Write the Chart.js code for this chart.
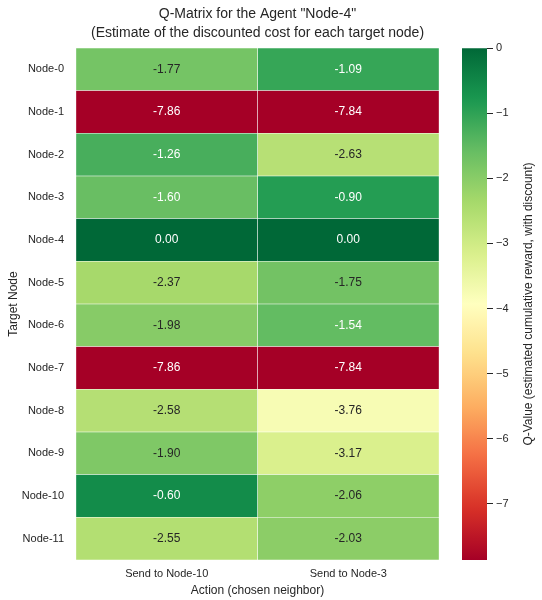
<!DOCTYPE html>
<html>
<head>
<meta charset="utf-8">
<script src="https://cdn.jsdelivr.net/npm/chart.js@4.4.1/dist/chart.umd.min.js"></script>
<style>
  html, body { margin: 0; padding: 0; background: #ffffff; overflow: hidden; }
  #wrap { position: relative; width: 542px; height: 600px; }
  #main { position: absolute; left: 0; top: 0; }
  #cbar { position: absolute; left: 462px; top: 0; }
</style>
</head>
<body>
<div id="wrap">
  <canvas id="main" width="542" height="600"></canvas>
  <canvas id="cbar" width="80" height="600"></canvas>
</div>
<script>
// ---------- data ----------
const rowLabels = ['Node-0','Node-1','Node-2','Node-3','Node-4','Node-5','Node-6','Node-7','Node-8','Node-9','Node-10','Node-11'];
const colLabels = ['Send to Node-10', 'Send to Node-3'];
const sendToNode10 = [-1.77, -7.86, -1.26, -1.60, 0.00, -2.37, -1.98, -7.86, -2.58, -1.90, -0.60, -2.55];
const sendToNode3  = [-1.09, -7.84, -2.63, -0.90, 0.00, -1.75, -1.54, -7.84, -3.76, -3.17, -2.06, -2.03];
const colorbarTicks = [0, -1, -2, -3, -4, -5, -6, -7];

const titleLines = ['Q-Matrix for the Agent "Node-4"', '(Estimate of the discounted cost for each target node)'];
const xTitle = 'Action (chosen neighbor)';
const yTitle = 'Target Node';
const cbTitle = 'Q-Value (estimated cumulative reward, with discount)';

const columns = [sendToNode10, sendToNode3];
const vmin = Math.min(...sendToNode10, ...sendToNode3);
const vmax = Math.max(...sendToNode10, ...sendToNode3);

// ---------- colormap (matplotlib RdYlGn) ----------
const RdYlGn = [
  [0.6470588235294118, 0.0, 0.14901960784313725],
  [0.8431372549019608, 0.18823529411764706, 0.15294117647058825],
  [0.9568627450980393, 0.42745098039215684, 0.2627450980392157],
  [0.9921568627450981, 0.6823529411764706, 0.3803921568627451],
  [0.996078431372549, 0.8784313725490196, 0.5450980392156862],
  [1.0, 1.0, 0.7490196078431373],
  [0.8509803921568627, 0.9372549019607843, 0.5450980392156862],
  [0.6509803921568628, 0.8509803921568627, 0.41568627450980394],
  [0.4, 0.7411764705882353, 0.38823529411764707],
  [0.10196078431372549, 0.596078431372549, 0.3137254901960784],
  [0.0, 0.40784313725490196, 0.21568627450980393]
];
function cmapAt(pos) {
  const p = Math.max(0, Math.min(1, pos)) * (RdYlGn.length - 1);
  const i = Math.min(RdYlGn.length - 2, Math.floor(p));
  const t = p - i;
  const a = RdYlGn[i], b = RdYlGn[i + 1];
  return [a[0] + (b[0] - a[0]) * t, a[1] + (b[1] - a[1]) * t, a[2] + (b[2] - a[2]) * t];
}
function rgbForValue(v) {
  const norm = (v - vmin) / (vmax - vmin);
  const idx = Math.min(255, Math.max(0, Math.floor(norm * 256)));
  return cmapAt(idx / 255);
}
function toCss(c) {
  return 'rgb(' + Math.round(c[0] * 255) + ',' + Math.round(c[1] * 255) + ',' + Math.round(c[2] * 255) + ')';
}
function luminance(c) {
  const lin = c.map(x => x <= 0.03928 ? x / 12.92 : Math.pow((x + 0.055) / 1.055, 2.4));
  return 0.2126 * lin[0] + 0.7152 * lin[1] + 0.0722 * lin[2];
}
function textColorFor(v) {
  return luminance(rgbForValue(v)) > 0.408 ? '#262626' : '#ffffff';
}

const FONT = '"Liberation Sans", Arial, Helvetica, sans-serif';
const TXT = '#262626';

// ---------- main heatmap ----------
const annotatePlugin = {
  id: 'annotate',
  afterDatasetsDraw(chart) {
    const ctx = chart.ctx;
    ctx.save();
    ctx.font = '12px ' + FONT;
    ctx.textAlign = 'center';
    ctx.textBaseline = 'middle';
    chart.data.datasets.forEach((ds, di) => {
      chart.getDatasetMeta(di).data.forEach((el, i) => {
        const c = el.getCenterPoint();
        const v = ds.qvals[i];
        ctx.fillStyle = textColorFor(v);
        ctx.fillText(v.toFixed(2), c.x, c.y);
      });
    });
    ctx.restore();
  },
  afterDraw(chart) {
    const ctx = chart.ctx;
    const ca = chart.chartArea;
    const cx = (ca.left + ca.right) / 2;
    ctx.save();
    ctx.fillStyle = TXT;
    ctx.textAlign = 'center';
    ctx.textBaseline = 'alphabetic';
    ctx.font = '14px ' + FONT;
    ctx.fillText(titleLines[0], cx, 18);
    ctx.fillText(titleLines[1], cx, 37);
    ctx.font = '12px ' + FONT;
    ctx.textBaseline = 'middle';
    ctx.fillText(xTitle, cx, 591);
    ctx.translate(14, (ca.top + ca.bottom) / 2);
    ctx.rotate(-Math.PI / 2);
    ctx.fillText(yTitle, 0, 0);
    ctx.restore();
  }
};

new Chart(document.getElementById('main'), {
  type: 'bar',
  data: {
    labels: rowLabels,
    datasets: columns.map((vals, j) => ({
      label: colLabels[j],
      data: vals.map(() => [j, j + 1]),
      qvals: vals,
      backgroundColor: vals.map(v => toCss(rgbForValue(v))),
      borderColor: '#ffffff',
      borderWidth: 0.5,
      borderSkipped: false,
      barPercentage: 1,
      categoryPercentage: 1
    }))
  },
  options: {
    indexAxis: 'y',
    responsive: false,
    animation: false,
    devicePixelRatio: 1,
    layout: { padding: { top: 48, right: 103, bottom: 0, left: 0 } },
    plugins: { legend: { display: false }, tooltip: { enabled: false }, title: { display: false } },
    scales: {
      y: {
        type: 'category',
        stacked: true,
        grid: { display: false, drawTicks: false, tickLength: 0 },
        border: { display: false },
        ticks: { padding: 12, color: TXT, font: { family: FONT, size: 11 }, autoSkip: false },
        afterFit(s) { s.width = 76; }
      },
      x: {
        type: 'linear',
        min: 0,
        max: columns.length,
        grid: { display: false, drawTicks: false, tickLength: 0 },
        border: { display: false },
        afterBuildTicks(s) { s.ticks = colLabels.map((_, j) => ({ value: j + 0.5 })); },
        ticks: {
          padding: 7,
          color: TXT,
          font: { family: FONT, size: 11 },
          maxRotation: 0,
          autoSkip: false,
          callback: (v, i) => colLabels[i]
        },
        afterFit(s) { s.height = 40; }
      }
    }
  },
  plugins: [annotatePlugin]
});

// ---------- colorbar ----------
const cbTitlePlugin = {
  id: 'cbTitle',
  afterDraw(chart) {
    const ctx = chart.ctx;
    const ca = chart.chartArea;
    ctx.save();
    ctx.fillStyle = TXT;
    ctx.font = '12px ' + FONT;
    ctx.textAlign = 'center';
    ctx.textBaseline = 'middle';
    ctx.translate(67, (ca.top + ca.bottom) / 2);
    ctx.rotate(-Math.PI / 2);
    ctx.fillText(cbTitle, 0, 0);
    ctx.restore();
  }
};

new Chart(document.getElementById('cbar'), {
  type: 'bar',
  data: {
    labels: [''],
    datasets: [{
      data: [[vmin, vmax]],
      backgroundColor(context) {
        const chart = context.chart;
        const ca = chart.chartArea;
        if (!ca) return 'rgba(0,0,0,0)';
        const g = chart.ctx.createLinearGradient(0, ca.bottom, 0, ca.top);
        const n = 64;
        for (let k = 0; k <= n; k++) {
          g.addColorStop(k / n, toCss(cmapAt(k / n)));
        }
        return g;
      },
      borderWidth: 0,
      barPercentage: 1,
      categoryPercentage: 1
    }]
  },
  options: {
    responsive: false,
    animation: false,
    devicePixelRatio: 1,
    layout: { padding: { top: 48, right: 0, bottom: 40, left: 0 } },
    plugins: { legend: { display: false }, tooltip: { enabled: false } },
    scales: {
      x: { display: false },
      y: {
        position: 'right',
        min: vmin,
        max: vmax,
        grid: { display: true, drawOnChartArea: false, drawTicks: true, tickLength: 6, color: TXT, lineWidth: 1 },
        border: { display: false },
        afterBuildTicks(s) { s.ticks = colorbarTicks.map(v => ({ value: v })); },
        ticks: {
          padding: 3,
          color: TXT,
          font: { family: FONT, size: 11 },
          callback: v => (v < 0 ? '\u2212' + Math.abs(v) : String(v))
        },
        afterFit(s) { s.width = 55; }
      }
    }
  },
  plugins: [cbTitlePlugin]
});
</script>
</body>
</html>
